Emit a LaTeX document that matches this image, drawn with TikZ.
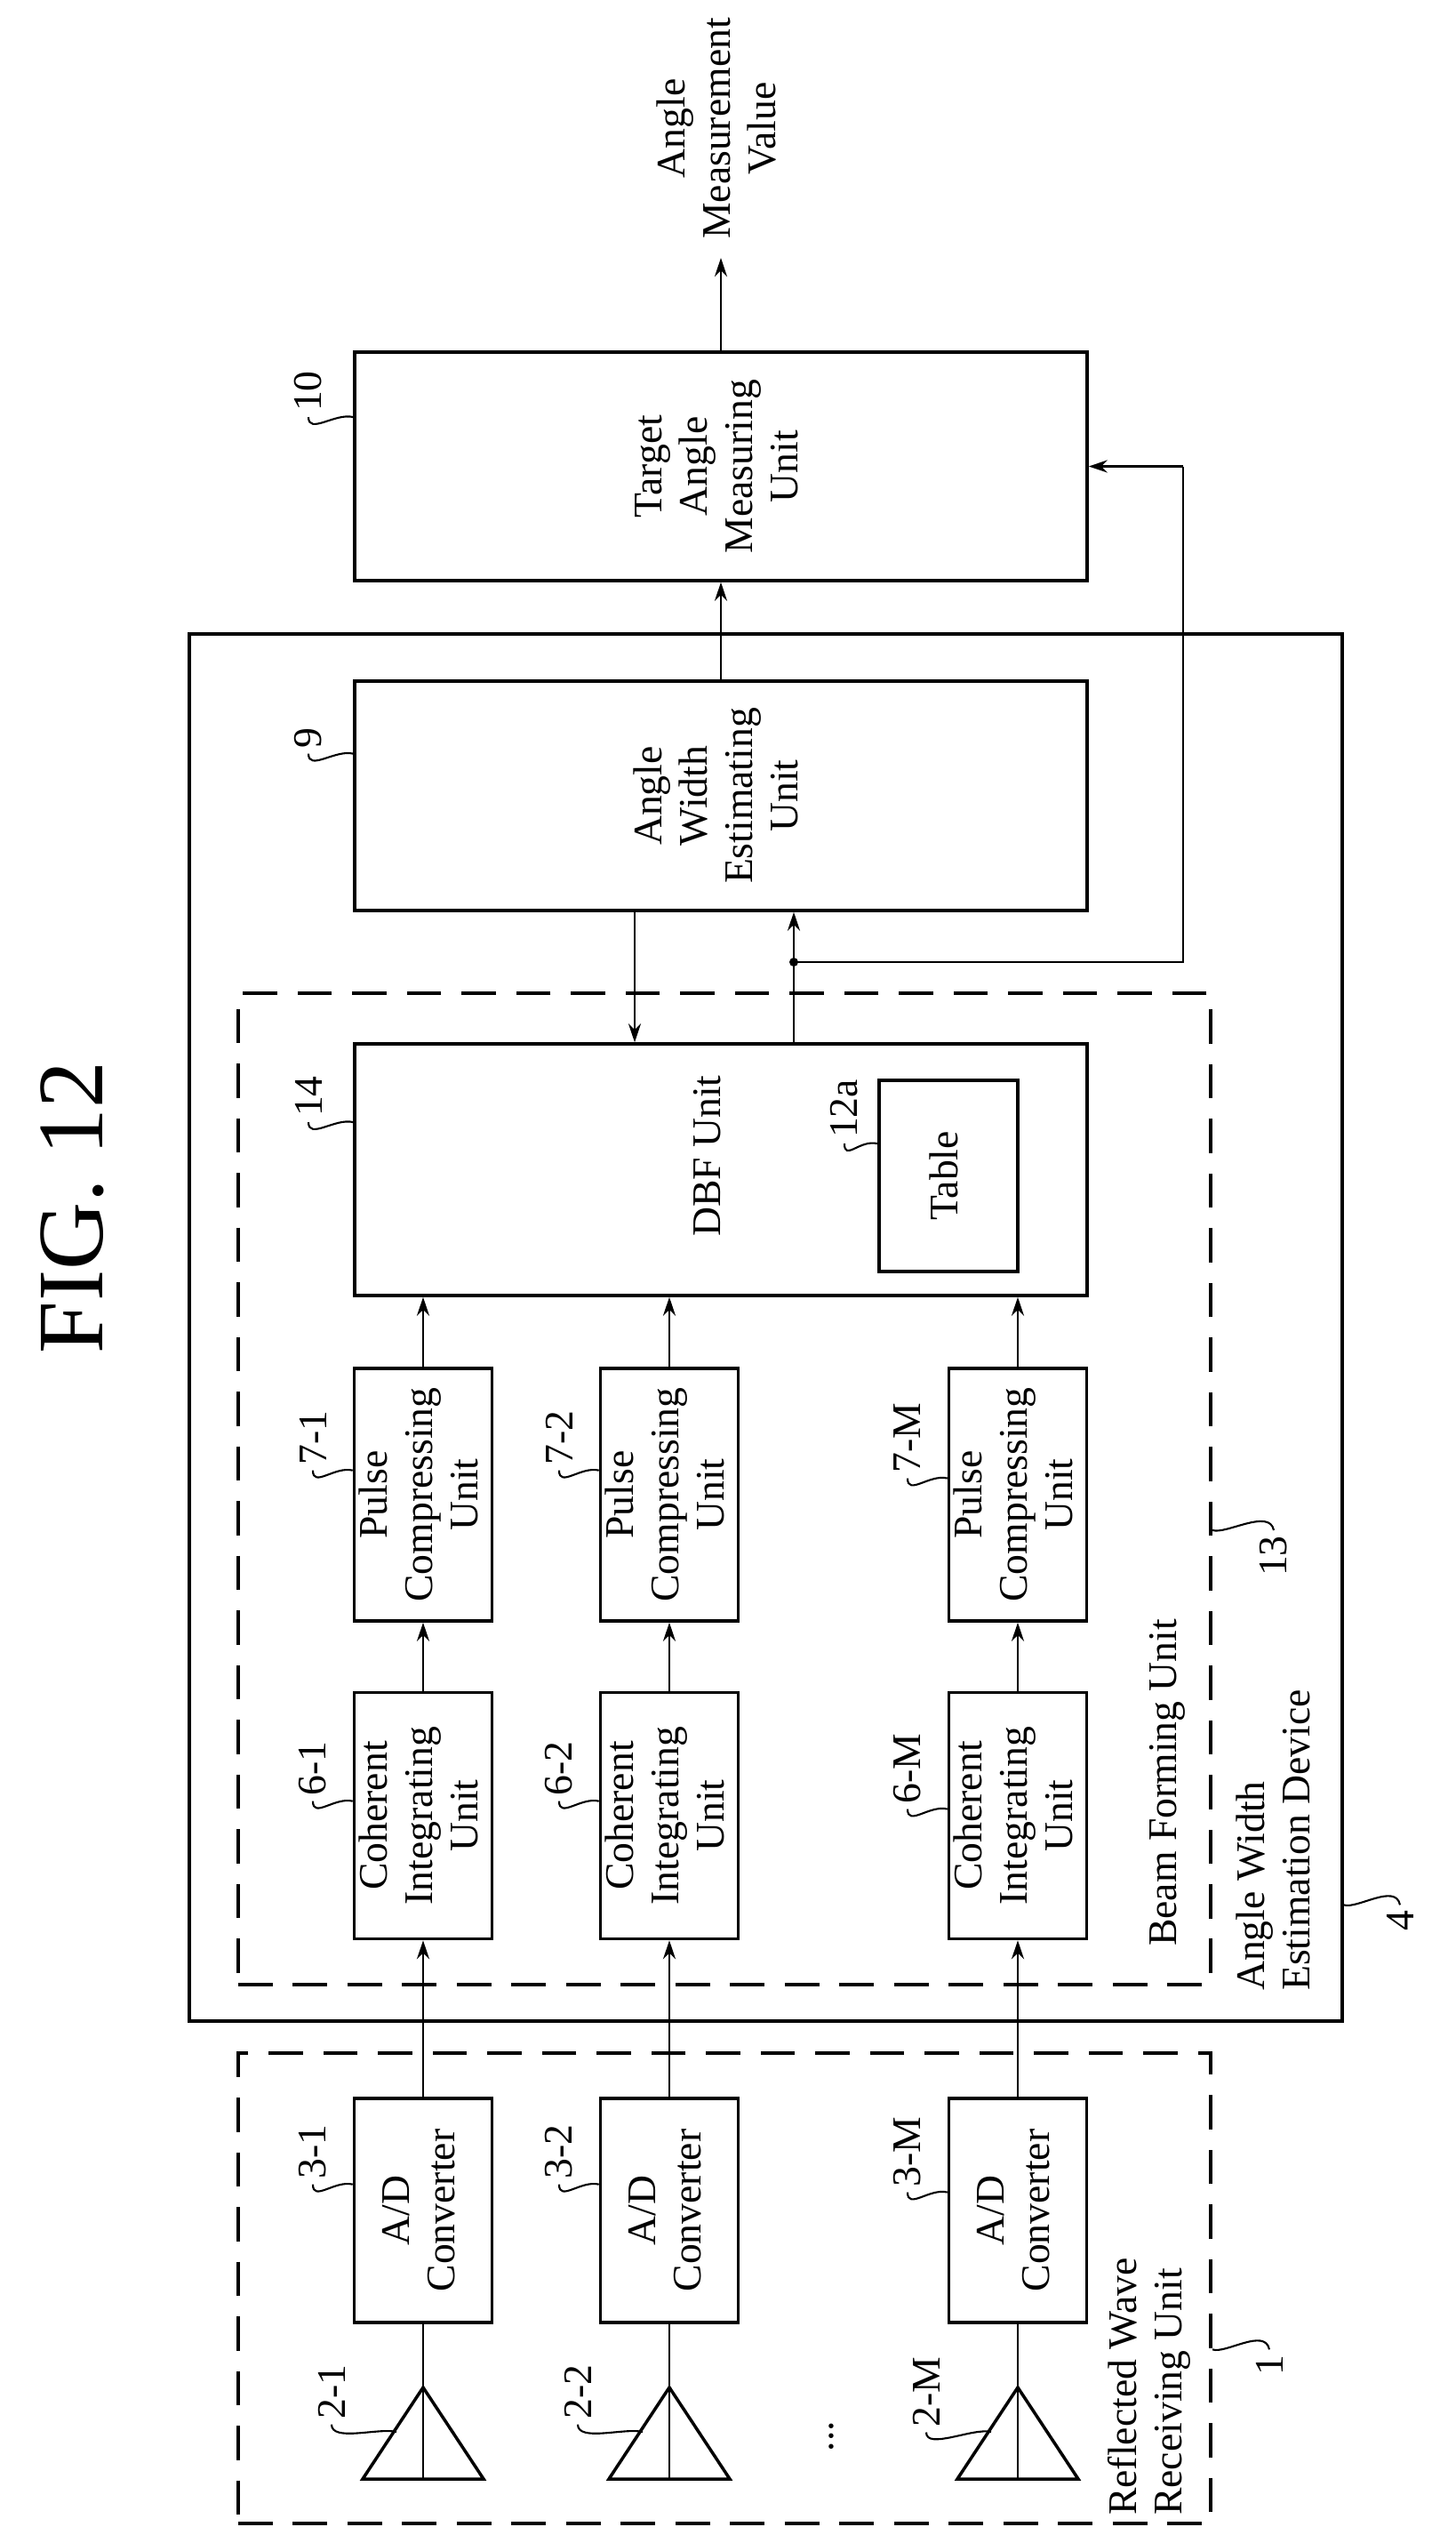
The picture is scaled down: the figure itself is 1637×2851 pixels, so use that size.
\documentclass[tikz,border=0pt]{standalone}
\usepackage{fontspec}
\setmainfont{Liberation Serif}
\usetikzlibrary{arrows.meta,positioning}
\newdimen\px \px=0.02cm
\newcommand\rot[1]{\rotatebox{90}{\begin{tabular}{@{}c@{}}#1\end{tabular}}}
\newcommand\rotl[1]{\rotatebox{90}{\begin{tabular}{@{}l@{}}#1\end{tabular}}}

\begin{document}
\begin{tikzpicture}[x=0.02cm,y=-0.02cm,
    every node/.style={font=\fontsize{26}{29}\selectfont},
    blk/.style={draw,line width=2pt,inner sep=0pt},
    dbox/.style={draw,line width=2.4pt,dash pattern=on 22pt off 13pt,inner sep=0pt},
    lead/.style={line width=1.2pt},
    sig/.style={line width=1.4pt,-{Stealth[length=12pt,width=8pt]}},
    >={Stealth[length=12pt,width=8pt]}]
\useasboundingbox (0,0) rectangle (1637,2851);

\node (fig) at (81,1358) {\rotatebox{90}{\fontsize{60}{60}\selectfont FIG. 12}};

% outer units
\node[blk,minimum width=1297\px,minimum height=1560\px] (awe) at (861.5,1493) {};
\node[dbox,minimum width=1094\px,minimum height=1115\px] (bfu) at (815,1674.5) {};
\node[dbox,minimum width=1094\px,minimum height=529\px] (rwu) at (815,2573.5) {};

% processing blocks
\node[blk,minimum width=824\px,minimum height=257\px] (tam) at (811,524.5) {\rot{Target\\Angle\\Measuring\\Unit}};
\node[blk,minimum width=824\px,minimum height=258\px] (aw) at (811,895) {\rot{Angle\\Width\\Estimating\\Unit}};
\node[blk,minimum width=824\px,minimum height=283\px] (dbf) at (811,1315.5) {};
\node (dbft) at (800,1300) {\rot{DBF Unit}};
\node[blk,minimum width=156\px,minimum height=215\px] (tbl) at (1067,1322.5) {\rot{Table}};

% channels
\foreach \x/\n [count=\i] in {476/1,753/2,1145/M}{
  \node[blk,minimum width=155\px,minimum height=252\px] (ad\i) at (\x,2486) {\rot{A/D\\Converter}};
  \node[blk,minimum width=155\px,minimum height=277\px] (ci\i) at (\x,2042) {\rot{Coherent\\Integrating\\Unit}};
  \node[blk,minimum width=155\px,minimum height=284\px] (pc\i) at (\x,1681) {\rot{Pulse\\Compressing\\Unit}};
  \coordinate (ap\i) at (\x,2685);
  \coordinate (bl\i) at ([xshift=-68\px]\x,2788);
  \coordinate (br\i) at ([xshift=68\px]\x,2788);
  \coordinate (bm\i) at (\x,2788);
  \draw[line width=2pt] (bl\i) -- (ap\i) -- (br\i) -- cycle;
  \draw[line width=1.4pt] (ap\i) -- (bm\i);
  \draw[line width=1.4pt] (ap\i) -- (ad\i.south);
  \draw[sig] (ad\i) -- (ci\i);
  \draw[sig] (ci\i) -- (pc\i);
  \draw[sig] (pc\i.north) -- (dbf.south -| pc\i.north);
  % reference numerals
  \node (l2\i) at ([xshift=-103\px]\x,2690) {\rotatebox{90}{2-\n}};
  \node (l3\i) at ([xshift=-124\px]\x,2420) {\rotatebox{90}{3-\n}};
  \node (l6\i) at ([xshift=-124\px]\x,1989) {\rotatebox{90}{6-\n}};
  \node (l7\i) at ([xshift=-124\px]\x,1617) {\rotatebox{90}{7-\n}};
  \coordinate (t2\i) at ([xshift=-30\px]\x,2735);
  \draw[lead] (l2\i.south) .. controls +(0,20) and +(-20,-5) .. (t2\i);
  \draw[lead] (l3\i.south) .. controls +(0,20) and +(-20,-5) .. (ad\i.west |- l3\i.south);
  \draw[lead] (l6\i.south) .. controls +(0,20) and +(-20,-5) .. (ci\i.west |- l6\i.south);
  \draw[lead] (l7\i.south) .. controls +(0,20) and +(-20,-5) .. (pc\i.west |- l7\i.south);
}
\node[rotate=90] (dots) at (935,2740) {...};

% connections around the estimating unit
\coordinate (fb) at (714,0);
\coordinate (fo) at (893,0);
\coordinate (br) at (1331,0);
\draw[sig] (aw.south -| fb) -- (dbf.north -| fb);
\draw[sig] (dbf.north -| fo) -- (aw.south -| fo);
\coordinate (dot) at (893,1082);
\fill (dot) circle (5);
\draw[line width=1.4pt] (dot) -- (dot -| br) -- (br |- tam.east);
\draw[sig] (br |- tam.east) -- (tam.east);
\draw[sig] (aw) -- (tam);
\coordinate (out) at (811,290);
\draw[sig] (tam) -- (out);
\node[anchor=south] (amv) at (811,275) {\rot{Angle\\Measurement\\Value}};

% numerals
\node (l10) at (347,440) {\rotatebox{90}{10}};
\node (l9) at (347,830) {\rotatebox{90}{9}};
\node (l14) at (347,1233) {\rotatebox{90}{14}};
\node (l12a) at (950,1247) {\rotatebox{90}{12a}};
\draw[lead] (l10.south) .. controls +(0,20) and +(-20,-5) .. (tam.west |- l10.south);
\draw[lead] (l9.south) .. controls +(0,20) and +(-20,-5) .. (aw.west |- l9.south);
\draw[lead] (l14.south) .. controls +(0,20) and +(-20,-5) .. (dbf.west |- l14.south);
\draw[lead] (l12a.south) .. controls +(0,20) and +(-20,-5) .. (tbl.west |- l12a.south);

\node[anchor=south] (bft) at (1313,2195) {\rot{Beam Forming Unit}};
\node[anchor=south] (awt) at (1438,2245) {\rotl{Angle Width\\Estimation Device}};
\node[anchor=south] (rwt) at (1294,2835) {\rotl{Reflected Wave\\Receiving Unit}};
\node (l13) at (1433,1750) {\rotatebox{90}{13}};
\node (l4) at (1575,2160) {\rotatebox{90}{4}};
\node (l1) at (1428,2660) {\rotatebox{90}{1}};
\draw[lead] (l13.north) .. controls +(-5,-25) and +(15,5) .. (bfu.east |- l13.north);
\draw[lead] (l4.north) .. controls +(-5,-25) and +(15,5) .. (awe.east |- l4.north);
\draw[lead] (l1.north) .. controls +(-5,-25) and +(15,5) .. (rwu.east |- l1.north);
\end{tikzpicture}
\end{document}
